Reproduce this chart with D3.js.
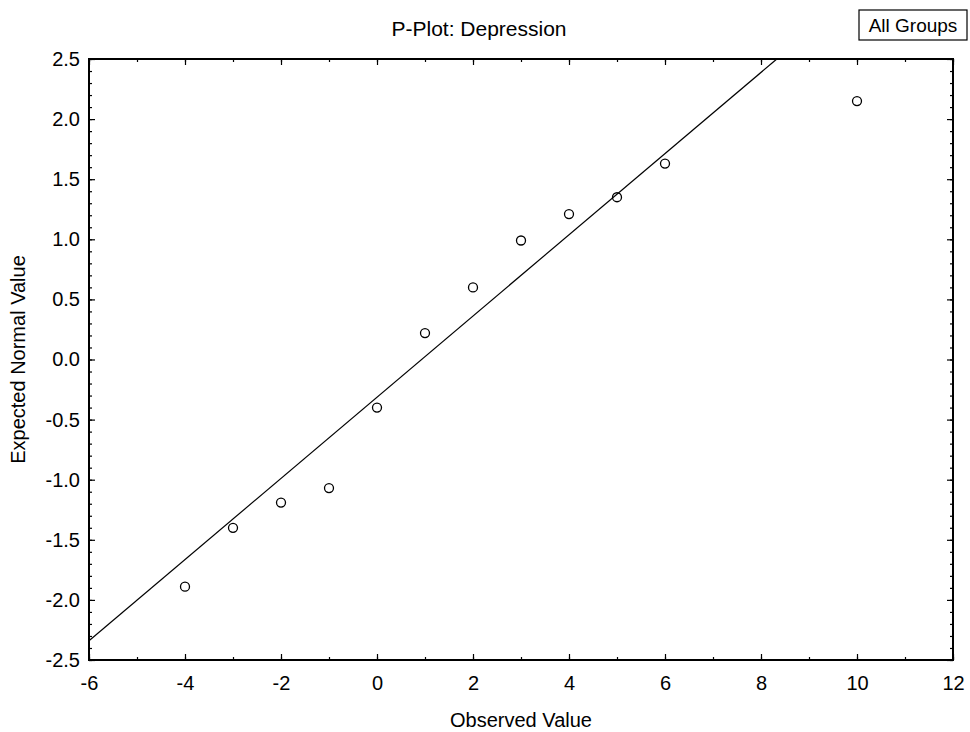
<!DOCTYPE html>
<html>
<head>
<meta charset="utf-8">
<script src="https://cdn.jsdelivr.net/npm/d3@7"></script>
<style>
  html, body { margin: 0; padding: 0; background: #fff; }
  svg { display: block; font-family: "Liberation Sans", Arial, sans-serif; }
</style>
</head>
<body>
<svg id="chart"></svg>
<script>
// observed values and their expected normal scores
const observed = [-4, -3, -2, -1, 0, 1, 2, 3, 4, 5, 6, 10];
const expected = [-1.89, -1.40, -1.19, -1.07, -0.40, 0.22, 0.60, 0.99, 1.21, 1.35, 1.63, 2.15];

// reference line (ends of the drawn segment)
const lineX = [-6, 8.33];
const lineY = [-2.34, 2.5];

const xTicks = [-6, -4, -2, 0, 2, 4, 6, 8, 10, 12];
const yTicks = [-2.5, -2.0, -1.5, -1.0, -0.5, 0.0, 0.5, 1.0, 1.5, 2.0, 2.5];

const width = 970, height = 732;
const margin = {top: 59, right: 17, bottom: 72, left: 89};

const svg = d3.select('#chart')
  .attr('width', width)
  .attr('height', height)
  .attr('viewBox', `0,0,${width},${height}`);

const x = d3.scaleLinear().domain([-6, 12]).range([margin.left, width - margin.right]);
const y = d3.scaleLinear().domain([-2.5, 2.5]).range([height - margin.bottom, margin.top]);

const xMinor = d3.range(-6, 12.01, 1);
const yMinor = d3.range(-25, 26, 1).map(d => d / 10);

// plain hyphen for negatives, like the original
const fmtX = d => String(d);
const fmtY = d => d.toFixed(1);

// minor ticks, all four sides, pointing inward
const minor = svg.append('g').attr('class', 'minor');
minor.append('g')
    .attr('transform', `translate(0,${y(-2.5)})`)
    .call(d3.axisBottom(x).tickValues(xMinor).tickSize(-3).tickFormat(''));
minor.append('g')
    .attr('transform', `translate(0,${y(2.5)})`)
    .call(d3.axisTop(x).tickValues(xMinor).tickSize(-3).tickFormat(''));
minor.append('g')
    .attr('transform', `translate(${x(-6)},0)`)
    .call(d3.axisLeft(y).tickValues(yMinor).tickSize(-3).tickFormat(''));
minor.append('g')
    .attr('transform', `translate(${x(12)},0)`)
    .call(d3.axisRight(y).tickValues(yMinor).tickSize(-3).tickFormat(''));

// major ticks with labels
const xAxis = svg.append('g')
    .attr('transform', `translate(0,${y(-2.5)})`)
    .call(d3.axisBottom(x).tickValues(xTicks).tickSize(-6).tickPadding(15).tickFormat(fmtX));
svg.append('g')
    .attr('transform', `translate(0,${y(2.5)})`)
    .call(d3.axisTop(x).tickValues(xTicks).tickSize(-6).tickFormat(''));
svg.append('g')
    .attr('transform', `translate(${x(-6)},0)`)
    .call(d3.axisLeft(y).tickValues(yTicks).tickSize(-6).tickPadding(9).tickFormat(fmtY));
svg.append('g')
    .attr('transform', `translate(${x(12)},0)`)
    .call(d3.axisRight(y).tickValues(yTicks).tickSize(-6).tickFormat(''));

svg.selectAll('.domain').remove();
svg.selectAll('.tick line').attr('stroke', '#000').attr('stroke-width', 1.2);
svg.selectAll('.tick text')
    .attr('fill', '#000')
    .attr('font-size', 20)
    .attr('font-family', '"Liberation Sans", Arial, sans-serif');
xAxis.selectAll('.tick text').attr('dy', '0.75em');

// plot frame
svg.append('rect')
    .attr('x', x(-6))
    .attr('y', y(2.5))
    .attr('width', x(12) - x(-6))
    .attr('height', y(-2.5) - y(2.5))
    .attr('fill', 'none')
    .attr('stroke', '#000')
    .attr('stroke-width', 2);

// fitted line
svg.append('line')
    .attr('x1', x(lineX[0])).attr('y1', y(lineY[0]))
    .attr('x2', x(lineX[1])).attr('y2', y(lineY[1]))
    .attr('stroke', '#000')
    .attr('stroke-width', 1.2);

// points
svg.append('g')
  .selectAll('circle')
  .data(observed.map((d, i) => ({x: d, y: expected[i]})))
  .join('circle')
    .attr('cx', d => x(d.x))
    .attr('cy', d => y(d.y))
    .attr('r', 4.5)
    .attr('fill', 'none')
    .attr('stroke', '#000')
    .attr('stroke-width', 1.3);

// titles
svg.append('text')
    .attr('x', 479)
    .attr('y', 36)
    .attr('text-anchor', 'middle')
    .attr('font-size', 21)
    .text('P-Plot: Depression');

svg.append('text')
    .attr('x', (x(-6) + x(12)) / 2)
    .attr('y', 727)
    .attr('text-anchor', 'middle')
    .attr('font-size', 20)
    .text('Observed Value');

svg.append('text')
    .attr('transform', `translate(20,${(y(2.5) + y(-2.5)) / 2}) rotate(-90)`)
    .attr('text-anchor', 'middle')
    .attr('dominant-baseline', 'middle')
    .attr('font-size', 20)
    .text('Expected Normal Value');

// group tag, top right
const tag = svg.append('g');
tag.append('rect')
    .attr('x', 859).attr('y', 10)
    .attr('width', 108).attr('height', 30)
    .attr('fill', '#fff')
    .attr('stroke', '#000')
    .attr('stroke-width', 1.2);
tag.append('text')
    .attr('x', 913)
    .attr('y', 32)
    .attr('text-anchor', 'middle')
    .attr('font-size', 19)
    .text('All Groups');
</script>
</body>
</html>
